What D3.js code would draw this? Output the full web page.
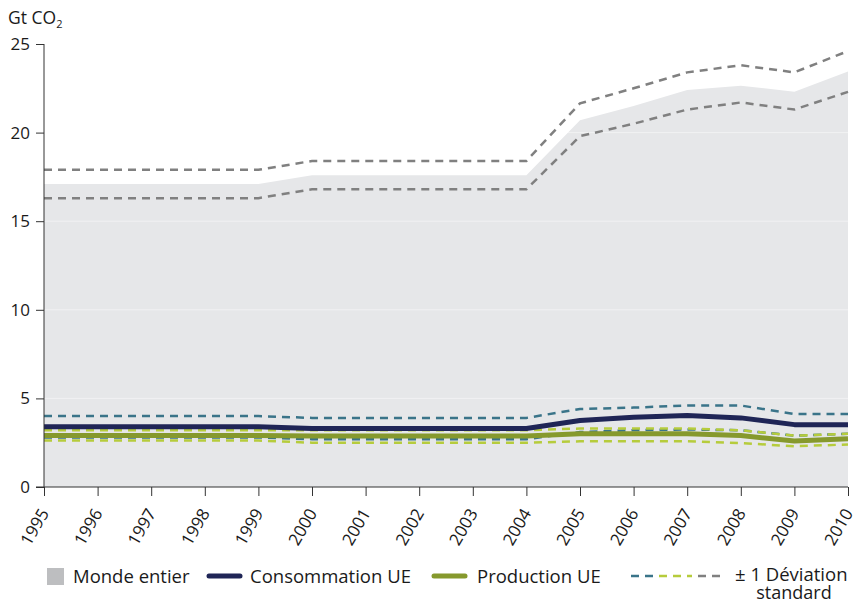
<!DOCTYPE html>
<html>
<head>
<meta charset="utf-8">
<script src="https://cdn.jsdelivr.net/npm/d3@7"></script>
<style>
  body { margin: 0; background: #fff; }
  svg text { font-family: "Open Sans", sans-serif; fill: #1a1a1a; }
</style>
</head>
<body>
<div class="chart"></div>
<script>
// years on the x axis
const years = [1995, 1996, 1997, 1998, 1999, 2000, 2001, 2002, 2003, 2004, 2005, 2006, 2007, 2008, 2009, 2010]

// Gt CO2
const world = [17.1, 17.1, 17.1, 17.1, 17.1, 17.6, 17.6, 17.6, 17.6, 17.6, 20.7, 21.5, 22.4, 22.65, 22.3, 23.45]
const worldUpper = [17.9, 17.9, 17.9, 17.9, 17.9, 18.4, 18.4, 18.4, 18.4, 18.4, 21.65, 22.5, 23.4, 23.8, 23.4, 24.6]
const worldLower = [16.3, 16.3, 16.3, 16.3, 16.3, 16.8, 16.8, 16.8, 16.8, 16.8, 19.8, 20.5, 21.3, 21.7, 21.3, 22.3]

const consumption = [3.4, 3.4, 3.4, 3.4, 3.4, 3.3, 3.3, 3.3, 3.3, 3.3, 3.75, 3.93, 4.03, 3.9, 3.52, 3.52]
const consUpper = [4.0, 4.0, 4.0, 4.0, 4.0, 3.9, 3.9, 3.9, 3.9, 3.9, 4.4, 4.48, 4.6, 4.6, 4.12, 4.12]
const consLower = [2.8, 2.8, 2.8, 2.8, 2.8, 2.7, 2.7, 2.7, 2.7, 2.7, 3.1, 3.2, 3.25, 3.2, 2.9, 3.0]

const production = [2.9, 2.9, 2.9, 2.9, 2.9, 2.88, 2.88, 2.88, 2.88, 2.88, 3.0, 3.0, 3.0, 2.9, 2.6, 2.72]
const prodUpper = [3.2, 3.2, 3.2, 3.2, 3.2, 3.2, 3.2, 3.2, 3.2, 3.2, 3.3, 3.3, 3.3, 3.2, 2.9, 3.0]
const prodLower = [2.62, 2.62, 2.62, 2.62, 2.62, 2.5, 2.5, 2.5, 2.5, 2.5, 2.58, 2.58, 2.58, 2.48, 2.3, 2.4]

const yTicks = [0, 5, 10, 15, 20, 25]

const legendLabels = ['Monde entier', 'Consommation UE', 'Production UE', '± 1 Déviation', 'standard']

const colors = {
    area: '#e6e7e9',
    navy: '#1f2556',
    olive: '#86992d',
    teal: '#3a7489',
    lime: '#b6cc3c',
    grey: '#808080',
    legendBox: '#bdbec0'
}

const dimensions = {
    width: 856,
    height: 602,
    margin: { top: 44, right: 8, bottom: 115, left: 44 }
}
const innerW = dimensions.width - dimensions.margin.left - dimensions.margin.right
const innerH = dimensions.height - dimensions.margin.top - dimensions.margin.bottom

const svg = d3.select('.chart')
    .append('svg')
    .attr('width', dimensions.width)
    .attr('height', dimensions.height)

const container = svg.append('g')
    .attr('transform', `translate(${dimensions.margin.left}, ${dimensions.margin.top})`)

const x = d3.scaleLinear().domain([1995, 2010]).range([0, innerW])
const y = d3.scaleLinear().domain([0, 25]).range([innerH, 0])

const series = (vals) => years.map((yr, i) => ({ year: yr, v: vals[i] }))

// world area
const area = d3.area()
    .x(d => x(d.year))
    .y0(y(0))
    .y1(d => y(d.v))

container.append('path')
    .datum(series(world))
    .attr('d', area)
    .attr('fill', colors.area)

// faint gridlines inside the area
container.selectAll('.grid')
    .data(yTicks.filter(t => t > 0 && t < 25))
    .join('line')
    .attr('x1', 0)
    .attr('x2', innerW)
    .attr('y1', d => y(d))
    .attr('y2', d => y(d))
    .attr('stroke', '#ffffff')
    .attr('stroke-opacity', 0.45)
    .attr('stroke-width', 1)

const line = d3.line()
    .x(d => x(d.year))
    .y(d => y(d.v))

const dashed = [
    { vals: worldUpper, color: colors.grey },
    { vals: worldLower, color: colors.grey },
    { vals: consUpper, color: colors.teal },
    { vals: consLower, color: colors.teal },
    { vals: prodUpper, color: colors.lime },
    { vals: prodLower, color: colors.lime }
]

container.selectAll('.dash')
    .data(dashed)
    .join('path')
    .attr('class', 'dash')
    .attr('d', d => line(series(d.vals)))
    .attr('fill', 'none')
    .attr('stroke', d => d.color)
    .attr('stroke-width', 2.5)
    .attr('stroke-dasharray', '8,6')

const solids = [
    { vals: consumption, color: colors.navy },
    { vals: production, color: colors.olive }
]

container.selectAll('.solid')
    .data(solids)
    .join('path')
    .attr('class', 'solid')
    .attr('d', d => line(series(d.vals)))
    .attr('fill', 'none')
    .attr('stroke', d => d.color)
    .attr('stroke-width', 5)
    .attr('stroke-linejoin', 'round')

// axes
const yAxis = container.append('g')
    .call(d3.axisLeft(y).tickValues(yTicks).tickSize(8).tickPadding(6))
yAxis.select('.domain').attr('d', `M0,0V${innerH}`).attr('stroke', '#333')
yAxis.selectAll('.tick line').attr('stroke', '#333')
yAxis.selectAll('text')
    .style('font-size', '17px')
    .attr('fill', '#1a1a1a')

const xAxis = container.append('g')
    .attr('transform', `translate(0, ${innerH})`)
    .call(d3.axisBottom(x).tickValues(years).tickFormat(d3.format('d')).tickSize(9))
xAxis.select('.domain').attr('d', `M-8,0H${innerW}`).attr('stroke', '#333')
xAxis.selectAll('.tick line').attr('stroke', '#333')
xAxis.selectAll('text')
    .style('font-size', '17px')
    .attr('fill', '#1a1a1a')
    .attr('text-anchor', 'end')
    .attr('x', 0)
    .attr('y', 0)
    .attr('dy', 0)
    .attr('transform', 'translate(5, 26) rotate(-60)')

// axis title
const title = svg.append('text')
    .attr('x', 8)
    .attr('y', 24)
    .style('font-size', '17.5px')
title.append('tspan').text('Gt CO')
title.append('tspan').text('2').attr('dy', 4).style('font-size', '11px')

// legend
const legend = svg.append('g')
const ly = 576
const lfs = '18.5px'

legend.append('rect')
    .attr('x', 47).attr('y', ly - 8).attr('width', 17).attr('height', 17)
    .attr('fill', colors.legendBox)
legend.append('text').attr('x', 73).attr('y', ly + 7).style('font-size', lfs).text(legendLabels[0])

legend.append('line')
    .attr('x1', 209).attr('x2', 240).attr('y1', ly).attr('y2', ly)
    .attr('stroke', colors.navy).attr('stroke-width', 5).attr('stroke-linecap', 'round')
legend.append('text').attr('x', 250).attr('y', ly + 7).style('font-size', lfs).text(legendLabels[1])

legend.append('line')
    .attr('x1', 434).attr('x2', 465).attr('y1', ly).attr('y2', ly)
    .attr('stroke', colors.olive).attr('stroke-width', 5).attr('stroke-linecap', 'round')
legend.append('text').attr('x', 477).attr('y', ly + 7).style('font-size', lfs).text(legendLabels[2])

const legendDash = [
    { x1: 631, x2: 653, color: colors.teal },
    { x1: 659, x2: 692, color: colors.lime },
    { x1: 698, x2: 726, color: colors.grey }
]
legend.selectAll('.ldash')
    .data(legendDash)
    .join('line')
    .attr('x1', d => d.x1).attr('x2', d => d.x2)
    .attr('y1', ly).attr('y2', ly)
    .attr('stroke', d => d.color)
    .attr('stroke-width', 2.5)
    .attr('stroke-dasharray', '8,6')

legend.append('text').attr('x', 735).attr('y', ly + 5).style('font-size', lfs).text(legendLabels[3])
legend.append('text').attr('x', 794).attr('y', 599).attr('text-anchor', 'middle').style('font-size', '18px').text(legendLabels[4])
</script>
</body>
</html>
